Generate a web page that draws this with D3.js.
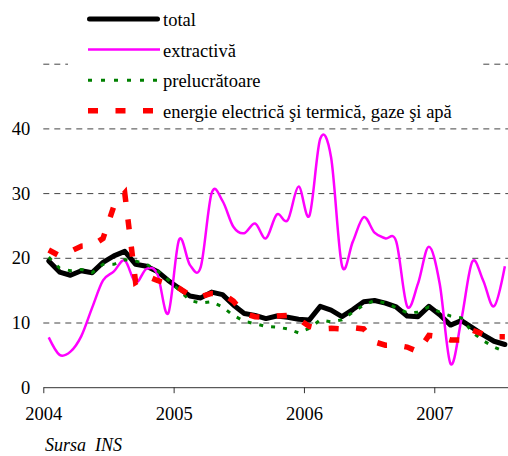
<!DOCTYPE html>
<html>
<head>
<meta charset="utf-8">
<script src="https://cdn.jsdelivr.net/npm/d3@7"></script>
<style>
  body { margin: 0; background: #fff; }
  svg text { fill: #000; }
</style>
</head>
<body>
<div id="chart"></div>
<script>
// Monthly data, Jan 2004 - Jul 2007
var months = [
  "2004-01","2004-02","2004-03","2004-04","2004-05","2004-06","2004-07","2004-08","2004-09","2004-10","2004-11","2004-12",
  "2005-01","2005-02","2005-03","2005-04","2005-05","2005-06","2005-07","2005-08","2005-09","2005-10","2005-11","2005-12",
  "2006-01","2006-02","2006-03","2006-04","2006-05","2006-06","2006-07","2006-08","2006-09","2006-10","2006-11","2006-12",
  "2007-01","2007-02","2007-03","2007-04","2007-05","2007-06","2007-07"
]

var total = [19.5,17.8,17.3,18.0,17.7,19.3,20.3,21.0,19.0,18.7,17.9,16.5,
  15.3,14.1,13.8,14.7,14.3,12.7,11.4,11.1,10.6,11.0,10.8,10.5,
  10.4,12.5,11.9,10.9,12.0,13.2,13.4,13.0,12.4,11.0,10.9,12.5,
  11.2,9.6,10.3,9.2,8.1,7.1,6.6]

var extractiva = [7.7,5.0,5.5,7.9,12.3,16.5,17.9,19.6,16.2,18.3,17.5,11.4,
  22.8,18.9,18.6,30.0,28.8,24.8,23.8,25.3,23.0,26.7,25.8,31.0,
  26.5,38.4,35.5,18.8,22.5,26.3,23.9,23.0,22.5,12.5,16.0,21.7,
  16.0,3.6,10.5,19.4,16.5,12.5,18.7]

var prelucratoare = [20.1,18.4,18.0,18.2,17.7,19.0,19.0,19.7,19.5,19.0,18.0,16.6,
  15.0,13.4,13.0,13.2,12.4,11.1,10.2,9.8,9.4,9.3,9.0,8.4,
  9.1,10.4,10.1,10.4,11.6,12.7,13.4,13.0,12.3,11.5,11.6,12.4,
  11.6,11.0,10.7,8.5,7.2,6.2,5.5]

var energie = [21.2,20.3,21.0,21.8,21.9,23.0,28.0,30.0,16.2,17.2,16.5,16.0,
  15.3,14.2,14.0,14.5,14.5,13.3,11.4,10.9,10.8,11.0,11.1,10.5,
  9.4,9.0,9.1,9.0,9.2,9.0,7.0,6.5,6.5,6.2,5.5,8.0,
  7.8,7.3,7.3,8.8,8.2,7.8,7.8]

var seriesNames = ["total", "extractivă", "prelucrătoare", "energie electrică şi termică, gaze şi apă"]
var yearTicks = [2004, 2005, 2006, 2007]
var yTicks = [0, 10, 20, 30, 40]
var gridTicks = [10, 20, 30, 40, 50]

var width = 508
var height = 456
var font = '"Times New Roman", "Liberation Serif", "Liberation Sans", sans-serif'

var svg = d3.select("#chart")
  .append("svg")
  .attr("width", width)
  .attr("height", height)

// month "YYYY-MM" -> decimal year at mid month
var toYear = m => +m.slice(0, 4) + (+m.slice(5, 7) - 0.5) / 12

var xScale = d3.scaleLinear()
  .domain([2004, 2008])
  .range([43.3, 564.6])

var yScale = d3.scaleLinear()
  .domain([0, 50])
  .range([387.2, 63.7])

// Render Y grid
svg.append("g")
  .attr("class", "grid")
  .attr("transform", `translate(${xScale(2004)},0)`)
  .call(d3.axisLeft(yScale).tickValues(gridTicks).tickSize(-(width - xScale(2004))).tickFormat(""))
  .call(g => g.select(".domain").remove())
  .selectAll("line")
  .attr("stroke", "#444")
  .attr("stroke-dasharray", "6,5")

// Render Y labels
svg.append("g")
  .attr("transform", `translate(${xScale(2004)},0)`)
  .call(d3.axisLeft(yScale).tickValues(yTicks).tickSize(0).tickPadding(13))
  .call(g => g.select(".domain").remove())
  .selectAll("text")
  .attr("font-family", font)
  .style("font-size", "18.5px")
  .attr("fill", "#000")

// Render lines
var line = d3.line()
  .x((d, i) => xScale(toYear(months[i])))
  .y(d => yScale(d))

var smooth = d3.line()
  .x((d, i) => xScale(toYear(months[i])))
  .y(d => yScale(d))
  .curve(d3.curveCardinal.tension(0))

var linesG = svg.append("g").attr("class", "lines")

linesG.append("path")
  .attr("d", line(total))
  .attr("fill", "none")
  .attr("stroke", "#000")
  .attr("stroke-width", 5)
  .attr("stroke-linejoin", "round")
  .attr("stroke-linecap", "round")

linesG.append("path")
  .attr("d", smooth(extractiva))
  .attr("fill", "none")
  .attr("stroke", "#ff00ff")
  .attr("stroke-width", 2.5)

linesG.append("path")
  .attr("d", line(prelucratoare))
  .attr("fill", "none")
  .attr("stroke", "#008000")
  .attr("stroke-width", 3)
  .attr("stroke-dasharray", "4,8")

linesG.append("path")
  .attr("d", line(energie))
  .attr("fill", "none")
  .attr("stroke", "#ff0000")
  .attr("stroke-width", 5.5)
  .attr("stroke-dasharray", "10,17.5")

// Render X axis
svg.append("g")
  .attr("class", "x-axis")
  .attr("transform", `translate(0,${yScale(0)})`)
  .call(d3.axisBottom(xScale).tickValues(yearTicks).tickSize(6).tickSizeOuter(0).tickFormat(d => d))
  .call(g => g.select(".domain").attr("stroke", "#333"))
  .call(g => g.selectAll(".tick line").attr("stroke", "#333"))
  .selectAll("text")
  .attr("y", 33)
  .attr("dy", 0)
  .attr("font-family", font)
  .style("font-size", "18.5px")
  .attr("fill", "#000")

// Legend
var legend = svg.append("g").attr("class", "legend")

legend.append("rect")
  .attr("x", 68)
  .attr("y", 0)
  .attr("width", 413)
  .attr("height", 124)
  .attr("fill", "#fff")

var legendStyles = [
  { color: "#000", w: 5, dash: null, cap: "round" },
  { color: "#ff00ff", w: 2.5, dash: null, cap: "butt" },
  { color: "#008000", w: 3, dash: "4,9", cap: "butt" },
  { color: "#ff0000", w: 5.5, dash: "10,17.5", cap: "butt" }
]

seriesNames.forEach((name, i) => {
  var cy = 19 + i * 30.6
  var s = legendStyles[i]
  legend.append("line")
    .attr("x1", s.cap == "round" ? 89.5 : 88)
    .attr("x2", s.cap == "round" ? 157.5 : 160)
    .attr("y1", cy)
    .attr("y2", cy)
    .attr("stroke", s.color)
    .attr("stroke-width", s.w)
    .attr("stroke-linecap", s.cap)
    .attr("stroke-dasharray", s.dash)
  legend.append("text")
    .attr("x", 163)
    .attr("y", cy + 7)
    .attr("font-family", font)
    .style("font-size", "18.5px")
    .text(name)
})

// Source note
svg.append("text")
  .attr("x", 45)
  .attr("y", 451)
  .attr("font-family", font)
  .style("font-size", "18px")
  .style("font-style", "italic")
  .style("white-space", "pre")
  .text("Sursa  INS")
</script>
</body>
</html>
